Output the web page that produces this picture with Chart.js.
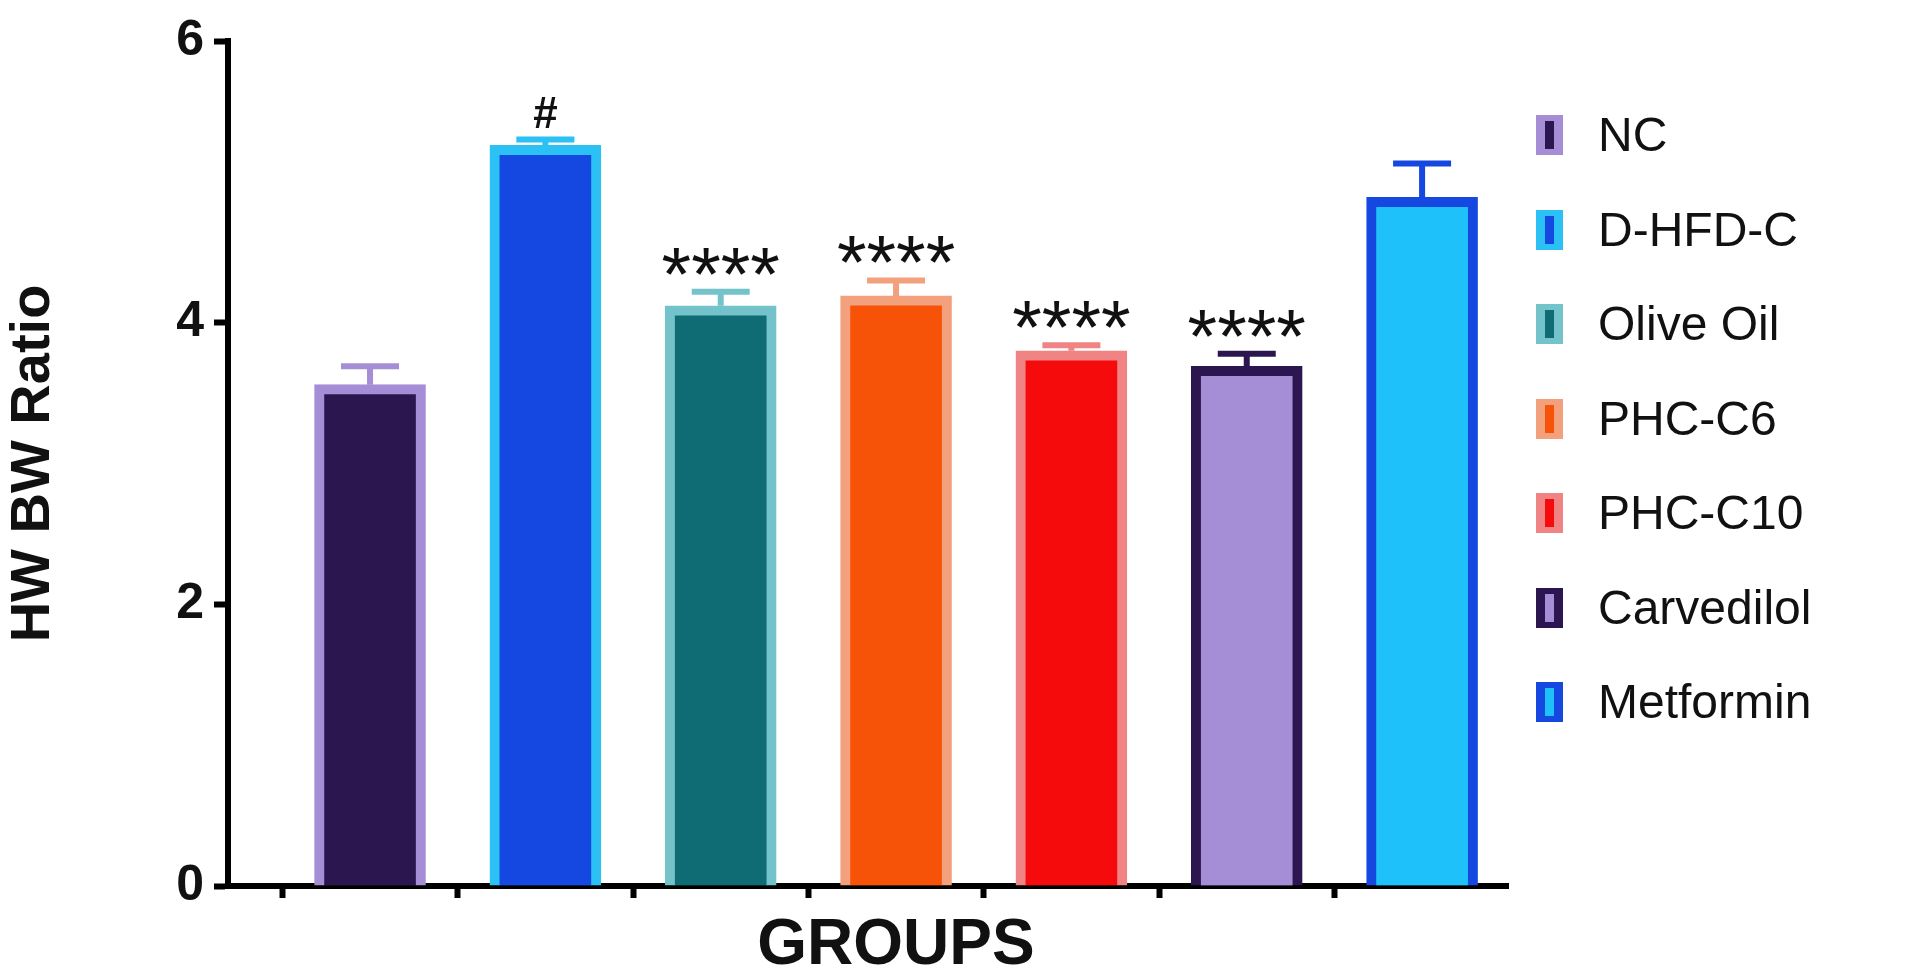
<!DOCTYPE html>
<html><head><meta charset="utf-8">
<script src="https://cdn.jsdelivr.net/npm/chart.js@4"></script>
<style>
html,body{margin:0;padding:0;background:#fff;}
#wrap{position:relative;width:1920px;height:972px;}
#legend{position:absolute;left:1536px;top:0;font-family:"Liberation Sans",Arial,sans-serif;font-size:48px;color:#111;}
.item{position:absolute;left:0;height:40px;white-space:nowrap;}
.box{position:absolute;left:0;top:0;width:9px;height:28px;border-style:solid;border-width:6px 9px;}
.lab{position:absolute;left:62px;top:-8px;line-height:56px;}
</style></head>
<body><div id="wrap"><canvas id="c" width="1920" height="972"></canvas><div id="legend"></div></div>
<script>
const categories = ["NC","D-HFD-C","Olive Oil","PHC-C6","PHC-C10","Carvedilol","Metformin"];
const means = [3.56, 5.26, 4.12, 4.19, 3.80, 3.69, 4.89];
const errors = [0.13, 0.04, 0.10, 0.11, 0.04, 0.09, 0.24];
const marks = ["", "#", "****", "****", "****", "****", ""];
const fillColors = ["#2b164f","#1448e0","#0f6b74","#f65208","#f50b0b","#a58ed6","#1ec1f9"];
const borderColors = ["#a58ed6","#2bc1f5","#74c3cb","#f3a07c","#f08484","#2b164f","#1448e0"];
const yTicks = [0,2,4,6];
const positions = [1,2,3,4,5,6,7];

const leg = document.getElementById('legend');
categories.forEach((c,i)=>{
  const d=document.createElement('div');d.className='item';d.style.top=(115+i*94.5)+'px';
  d.innerHTML=`<div class="box" style="background:${fillColors[i]};border-color:${borderColors[i]}"></div><div class="lab">${c}</div>`;
  leg.appendChild(d);
});

const errPlugin = {
  id:'err',
  afterDatasetsDraw(chart){
    const ctx=chart.ctx, y=chart.scales.y, meta=chart.getDatasetMeta(0);
    meta.data.forEach((bar,i)=>{
      const top=y.getPixelForValue(means[i]+errors[i]);
      const base=y.getPixelForValue(means[i]);
      ctx.save();
      ctx.strokeStyle=borderColors[i];ctx.lineWidth=6;
      ctx.beginPath();ctx.moveTo(bar.x,base);ctx.lineTo(bar.x,top);
      ctx.moveTo(bar.x-29,top);ctx.lineTo(bar.x+29,top);ctx.stroke();
      if(marks[i]){
        ctx.fillStyle='#111';ctx.textAlign='center';ctx.textBaseline='alphabetic';
        if(marks[i]==='#'){ctx.font='bold 44px "Liberation Sans",Arial';ctx.fillText('#',bar.x,top-12);}
        else {ctx.font='76px "Liberation Sans",Arial';ctx.fillText(marks[i],bar.x,top+8);}
      }
      ctx.restore();
    });
    ctx.save();
    ctx.fillStyle='#111';ctx.textAlign='center';ctx.textBaseline='middle';
    ctx.font='bold 64px "Liberation Sans",Arial';
    ctx.fillText('GROUPS',896,946);
    ctx.restore();
  }
};

new Chart(document.getElementById('c'),{
  type:'bar',
  data:{datasets:[{data:positions.map((p,i)=>({x:p,y:means[i]})),backgroundColor:fillColors,borderColor:borderColors,borderWidth:10,borderSkipped:'bottom',barThickness:111}]},
  options:{
    responsive:false,animation:false,devicePixelRatio:1,
    layout:{padding:{top:41,right:412,left:0,bottom:0}},
    plugins:{legend:{display:false},tooltip:{enabled:false}},
    scales:{
      x:{type:'linear',min:0.19,max:7.49,offset:false,
         afterBuildTicks:s=>{s.ticks=positions.map(v=>({value:v}));},
         grid:{display:true,drawOnChartArea:false,drawTicks:true,tickLength:12,tickWidth:6,tickColor:'#000'},
         border:{color:'#000',width:6},
         ticks:{callback:()=>''},
         afterFit:s=>{s.height=86;}},
      y:{min:0,max:6,afterBuildTicks:s=>{s.ticks=yTicks.map(v=>({value:v}));},
         grid:{display:true,drawOnChartArea:false,drawTicks:true,tickLength:14,tickWidth:6,tickColor:'#000'},
         border:{color:'#000',width:6},
         ticks:{color:'#111',font:{family:'"Liberation Sans",Arial',size:50,weight:'bold'},padding:10},
         title:{display:true,text:'HW BW Ratio',color:'#111',font:{family:'"Liberation Sans",Arial',size:56,weight:'bold'},padding:{top:0,bottom:18}},
         afterFit:s=>{s.width=228;}}
    }
  },
  plugins:[errPlugin]
});
</script>
</body></html>
